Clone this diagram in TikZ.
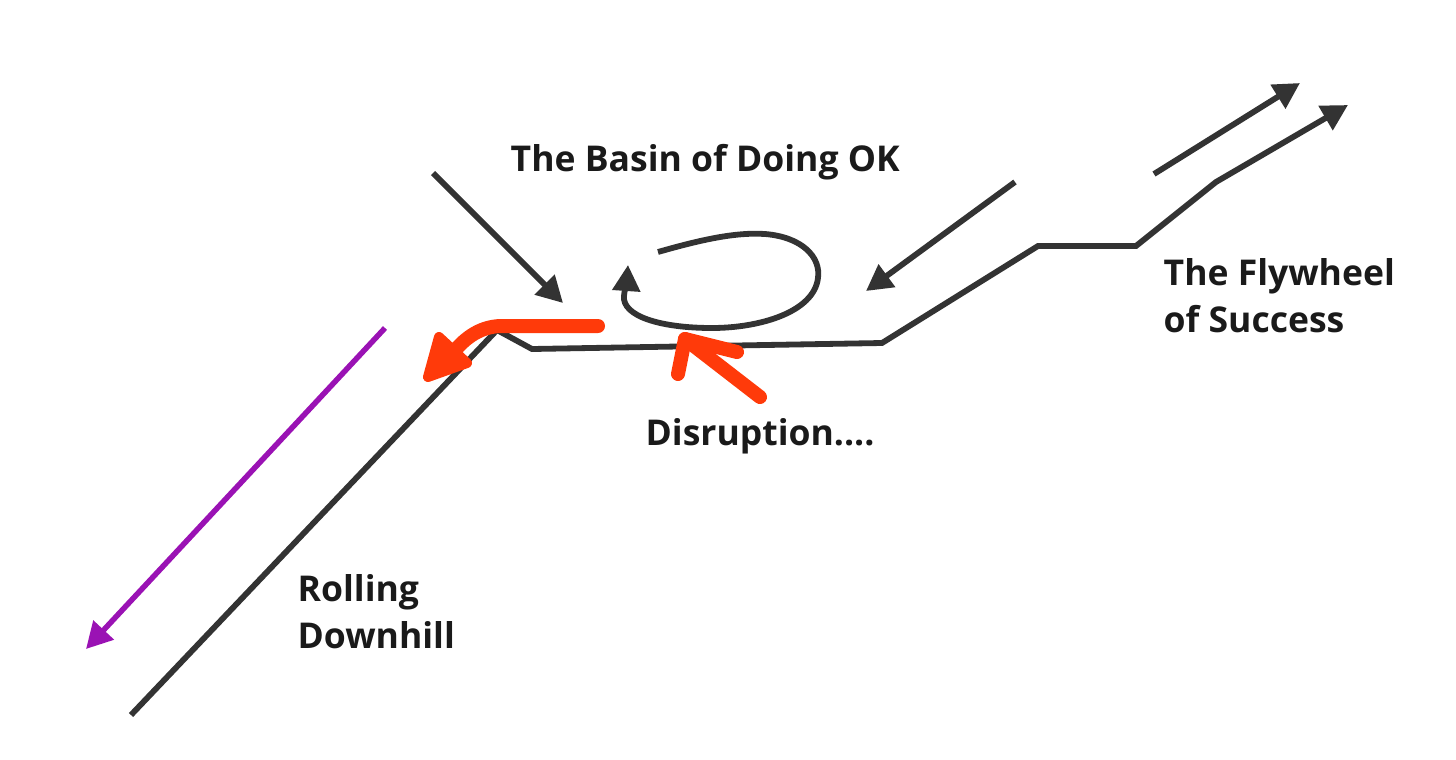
\documentclass[tikz,border=0pt]{standalone}
\usepackage{fontspec}
\newfontfamily\lab{Open Sans}
\usetikzlibrary{arrows.meta}
\definecolor{ink}{HTML}{333333}
\definecolor{txt}{HTML}{1A1A1A}
\definecolor{redd}{HTML}{FF3A0A}
\definecolor{purp}{HTML}{9A12B4}
\begin{document}
\begin{tikzpicture}[x={(0.01cm,0)},y={(0,-0.01cm)},
  line/.style={draw=ink,line width=0.058cm,line join=miter},
  arr/.style={line,-{Triangle[length=0.26cm,width=0.27cm]}},
  parr/.style={draw=purp,line width=0.055cm,-{Triangle[length=0.26cm,width=0.27cm]}},
  rline/.style={draw=redd,line width=0.14cm,line cap=round,line join=round},
  lbl/.style={inner sep=0,anchor=base west,text=txt,font=\lab\bfseries\fontsize{10.1pt}{13.3pt}\selectfont,align=left}]
\useasboundingbox (0,0) rectangle (1456,760);
% ground line
\coordinate (g0) at (131,715);
\coordinate (g1) at (497,330);
\coordinate (g2) at (532,349);
\coordinate (g3) at (882,343);
\coordinate (g4) at (1038,246);
\coordinate (g5) at (1136,246);
\coordinate (g6) at (1216,182);
\coordinate (g7) at (1348,105);
\draw[arr] (g0) -- (g1) -- (g2) -- (g3) -- (g4) -- (g5) -- (g6) -- (g7);
% second up arrow
\coordinate (u0) at (1154,174);
\coordinate (u1) at (1300,83);
\draw[arr] (u0) -- (u1);
% arrows into basin
\coordinate (a0) at (433,173);
\coordinate (a1) at (563,303);
\draw[arr] (a0) -- (a1);
\coordinate (b0) at (1015,182);
\coordinate (b1) at (866,291);
\draw[arr] (b0) -- (b1);
% purple arrow
\coordinate (p0) at (385,328);
\coordinate (p1) at (86,649);
\draw[parr] (p0) -- (p1);
% loop
\coordinate (l0) at (658,252);
\coordinate (l1) at (628,265);
\draw[arr] (l0) .. controls (700,240) and (735,232) .. (765,234)
  .. controls (802,237) and (821,257) .. (818,278)
  .. controls (814,312) and (760,328) .. (712,328)
  .. controls (660,328) and (622,316) .. (624,296)
  .. controls (625,287) and (627,280) .. (l1);
% red arrows
\coordinate (r0) at (598,326);
\coordinate (r1) at (449,358);
\draw[rline] (r0) -- (500,326) .. controls (478,327) and (462,340) .. (r1);
\fill[redd,draw=redd,line width=0.1cm,line join=round] (428,377) -- (439,337) -- (467,363) -- cycle;
\coordinate (s0) at (760,397);
\coordinate (s1) at (685,339);
\draw[rline] (s0) -- (s1);
\draw[rline] (678,374) -- (s1) -- (737,352);
% labels
\node[lbl] (basin) at (510,171) {The Basin of Doing OK};
\node[lbl] (fly) at (1163,332) {The Flywheel\\of Success};
\node[lbl] (dis) at (645,445) {Disruption....};
\node[lbl] (roll) at (297,648) {Rolling\\Downhill};
\end{tikzpicture}
\end{document}
